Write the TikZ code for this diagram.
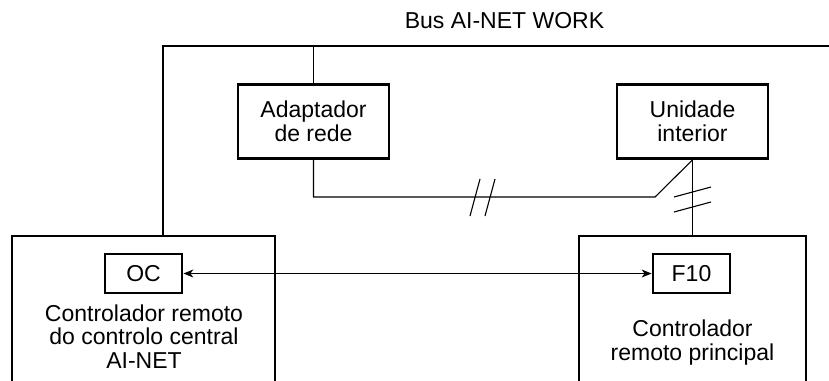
\documentclass[tikz,border=0pt]{standalone}
\usepackage{fontspec}
\setmainfont{Liberation Sans}
\usetikzlibrary{arrows.meta}
\begin{document}
\begin{tikzpicture}[x=1pt,y=-1pt,
  thin line/.style={line width=1.1pt},
  thickbox/.style={draw,line width=2.8pt},
  txt/.style={font=\fontsize{23}{23.5}\selectfont},
  unitbox/.style={thickbox,txt,minimum width=151pt,minimum height=74pt,inner sep=0pt,align=center},
  tagbox/.style={thickbox,txt,minimum width=77pt,minimum height=39pt,inner sep=0pt},
  lbl/.style={txt,align=center,inner sep=0pt}]
\useasboundingbox (0,0) rectangle (829,380);
% nodes
\node[unitbox] (adapt) at (313.5,121.5) {Adaptador\\de rede};
\node[unitbox] (unid) at (692.5,121.5) {Unidade\\interior};
\node[tagbox] (oc) at (143.5,273.5) {OC};
\node[tagbox] (f10) at (691.5,273.5) {F10};
\node[lbl] (buslbl) at (504.5,21) {Bus AI-NET WORK};
\node[lbl] (crctext) at (144,336.2) {Controlador remoto\\do controlo central\\AI-NET};
\node[lbl] (mrctext) at (692.5,342.6) {Controlador\\remoto principal};
% coordinates
\coordinate (busL) at (163,46);
\coordinate (busR) at (830,46);
\coordinate (busA) at (adapt.north |- busL);
\coordinate (crcTop) at (163,236);
\coordinate (mrcTop) at (unid.south |- crcTop);
\coordinate (knee) at (655,197);
% big boxes (open at bottom)
\draw[line width=2.8pt] (12,382) -- (12,236) -- (275,236) -- (275,382);
\draw[line width=2.8pt] (579,382) -- (579,236) -- (806,236) -- (806,382);
% bus
\draw[thin line] (crcTop) -- (busL) -- (busR);
\draw[thin line] (busA) -- (adapt.north);
% adapter to indoor unit
\draw[thin line] (adapt.south) |- (knee) -- (unid.south);
\draw[thin line] (unid.south) -- (mrcTop);
% hash marks
\draw[thin line] (470,216) -- (480,179);
\draw[thin line] (485,216) -- (495,179);
\draw[thin line] (674,197) -- (711,187);
\draw[thin line] (674,212) -- (711,202);
% arrow
\draw[thin line,{Stealth[length=10pt,width=8pt,inset=3pt]}-{Stealth[length=10pt,width=8pt,inset=3pt]}] (oc.east) -- (f10.west);
\end{tikzpicture}
\end{document}
